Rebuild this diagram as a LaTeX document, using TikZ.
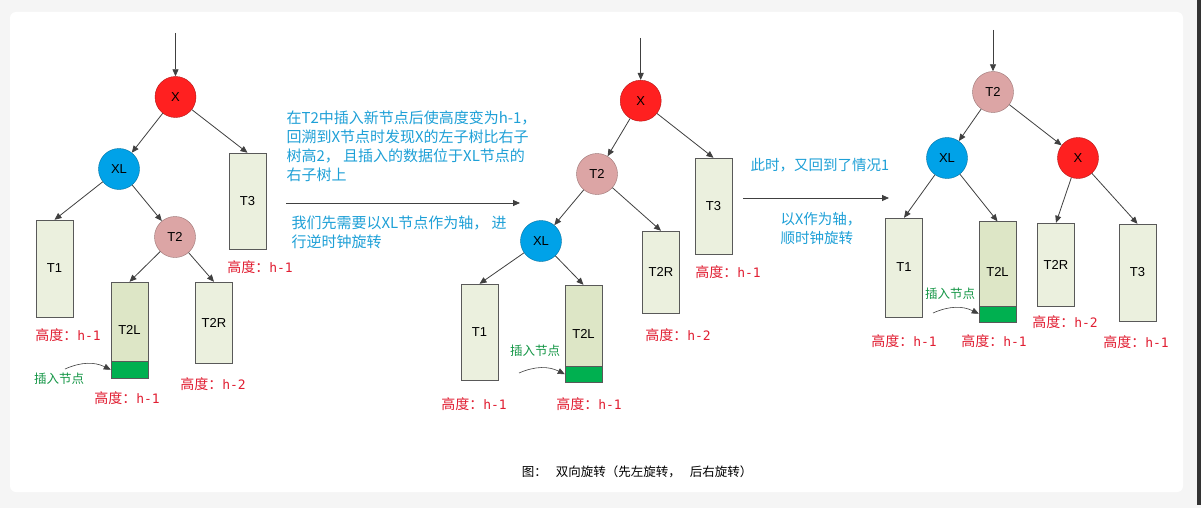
\documentclass[tikz,border=0pt]{standalone}
\usepackage{fontspec}
\setmainfont{Noto Sans CJK SC}
\newfontfamily\nodefont{Liberation Sans}
\newfontfamily\hfont{DejaVu Sans Mono}
\usepackage{tikz}
\usetikzlibrary{arrows.meta,positioning}
\usepackage{xcolor}
\definecolor{nodered}{RGB}{255,32,32}
\definecolor{nodeblue}{RGB}{0,162,232}
\definecolor{nodepink}{RGB}{220,165,165}
\definecolor{treefill}{RGB}{235,240,222}
\definecolor{treefillb}{RGB}{221,230,198}
\definecolor{insgreen}{RGB}{0,176,80}
\definecolor{txtblue}{RGB}{30,160,215}
\definecolor{txtred}{RGB}{225,30,50}
\definecolor{txtgreen}{RGB}{20,150,70}
\definecolor{edgegray}{RGB}{64,64,64}
\definecolor{pagegray}{RGB}{245,245,245}
\newcommand{\hval}[1]{高度：{\hfont\fontsize{13}{13}\selectfont h-#1}}
\tikzset{
  vnode/.style={circle, draw=#1!70!black, fill=#1, minimum size=41pt, inner sep=0pt,
    font=\nodefont\fontsize{13}{13}\selectfont},
  subtree/.style={rectangle, draw=gray!70!black, fill=treefill, minimum width=37pt,
    minimum height=#1, inner sep=0pt, font=\nodefont\fontsize{13}{13}\selectfont},
  edge/.style={draw=edgegray, line width=0.8pt, -{Triangle[length=7pt,width=6pt]}},
  hlabel/.style={font=\fontsize{14}{14}\selectfont, text=txtred},
  inslabel/.style={font=\fontsize{12.5}{12.5}\selectfont, text=txtgreen},
  note/.style={font=\fontsize{15}{19}\selectfont, text=txtblue, align=left},
}

\begin{document}
\begin{tikzpicture}[x=1pt, y=-1pt]
    \useasboundingbox (0,0) rectangle (1201,508);
    % Page
    \fill[pagegray] (0,0) rectangle (1201,508);
    \fill[white, rounded corners=6pt] (10,12) rectangle (1183,492);
    \fill[black!80] (1197,0) rectangle (1201,505);

    % Left tree
    \node[vnode=nodered] (x1) at (175.5,97) {X};
    \node[vnode=nodeblue] (xl1) at (119,169) {XL};
    \node[vnode=nodepink] (tb1) at (175,237) {T2};
    \node[subtree=97pt] (ta1) at (54.5,268.5) {T1};
    \node[subtree=96pt] (tc1) at (247.5,201) {T3};
    \node[subtree=96pt, fill=treefillb] (tl1) at (129.5,330) {T2L};
    \node[subtree=81pt] (tr1) at (214,322.5) {T2R};
    \draw[draw=gray!70!black, fill=insgreen] (tl1.south west) rectangle ([yshift=17pt]tl1.south east);
    \coordinate (in1) at (175.5,33);
    \draw[edge] (in1) -- (x1);
    \draw[edge] (x1) -- (xl1);
    \draw[edge] (x1) -- (tc1.north);
    \draw[edge] (xl1) -- (ta1.north);
    \draw[edge] (xl1) -- (tb1);
    \draw[edge] (tb1) -- (tl1.north);
    \draw[edge] (tb1) -- (tr1.north);
    \node[hlabel] (ha1) at (68,335) {\hval{1}};
    \node[hlabel] (hc1) at (260,267) {\hval{1}};
    \node[hlabel] (hr1) at (213,384) {\hval{2}};
    \node[hlabel] (hl1) at (127,398) {\hval{1}};
    \node[inslabel] (ins1) at (59,379) {插入节点};
    \coordinate (cs1) at (65,369);
    \draw[edge, line width=0.6pt] (cs1) to[bend left=25] ([yshift=8.5pt]tl1.south west);

    % First step
    \node[note, anchor=west] (n1) at (283,146.5) {在T2中插入新节点后使高度变为h-1，\\回溯到X节点时发现X的左子树比右子\\树高2， 且插入的数据位于XL节点的\\右子树上};
    \coordinate (as1) at (286,203);
    \coordinate (ae1) at (520,203);
    \draw[edge] (as1) -- (ae1);
    \node[note, anchor=west] (n2) at (288,232.5) {我们先需要以XL节点作为轴， 进\\行逆时钟旋转};

    % Middle tree
    \node[vnode=nodered] (x2) at (640.7,100.7) {X};
    \node[vnode=nodepink] (tb2) at (597,174) {T2};
    \node[vnode=nodeblue] (xl2) at (541,241) {XL};
    \node[subtree=96pt] (tc2) at (713.5,206) {T3};
    \node[subtree=82pt] (tr2) at (661,272) {T2R};
    \node[subtree=96pt] (ta2) at (479.5,332) {T1};
    \node[subtree=97pt, fill=treefillb] (tl2) at (583.5,333.5) {T2L};
    \draw[draw=gray!70!black, fill=insgreen] (tl2.south west) rectangle ([yshift=16pt]tl2.south east);
    \coordinate (in2) at (640.7,38);
    \draw[edge] (in2) -- (x2);
    \draw[edge] (x2) -- (tb2);
    \draw[edge] (x2) -- (tc2.north);
    \draw[edge] (tb2) -- (xl2);
    \draw[edge] (tb2) -- (tr2.north);
    \draw[edge] (xl2) -- (ta2.north);
    \draw[edge] (xl2) -- (tl2.north);
    \node[hlabel] (hc2) at (728,272) {\hval{1}};
    \node[hlabel] (hr2) at (678,335) {\hval{2}};
    \node[hlabel] (ha2) at (474,404) {\hval{1}};
    \node[hlabel] (hl2) at (589,404) {\hval{1}};
    \node[inslabel] (ins2) at (535,351) {插入节点};
    \coordinate (cs2) at (519,373);
    \draw[edge, line width=0.6pt] (cs2) to[bend left=25] ([yshift=8pt]tl2.south west);

    % Second step
    \node[font=\fontsize{14.5}{19}\selectfont, text=txtblue] (n3) at (820,165) {此时，又回到了情况1};
    \coordinate (as2) at (743,198);
    \coordinate (ae2) at (889,198);
    \draw[edge] (as2) -- (ae2);
    \node[note, font=\fontsize{14.5}{19}\selectfont, anchor=west] (n4) at (777,229) {以X作为轴，\\顺时钟旋转};

    % Right tree
    \node[vnode=nodepink] (tb3) at (993,92) {T2};
    \node[vnode=nodeblue] (xl3) at (947,158) {XL};
    \node[vnode=nodered] (x3) at (1078,158) {X};
    \node[subtree=99pt] (ta3) at (904,267.5) {T1};
    \node[subtree=100pt, fill=treefillb] (tl3) at (997.5,271.5) {T2L};
    \node[subtree=83pt] (tr3) at (1056,264.5) {T2R};
    \node[subtree=97pt] (tc3) at (1137.5,272.5) {T3};
    \draw[draw=gray!70!black, fill=insgreen] (tl3.south west) rectangle ([yshift=16pt]tl3.south east);
    \coordinate (in3) at (993,30);
    \draw[edge] (in3) -- (tb3);
    \draw[edge] (tb3) -- (xl3);
    \draw[edge] (tb3) -- (x3);
    \draw[edge] (xl3) -- (ta3.north);
    \draw[edge] (xl3) -- (tl3.north);
    \draw[edge] (x3) -- (tr3.north);
    \draw[edge] (x3) -- (tc3.north);
    \node[hlabel] (ha3) at (904,341) {\hval{1}};
    \node[hlabel] (hl3) at (994,341) {\hval{1}};
    \node[hlabel] (hr3) at (1065,322) {\hval{2}};
    \node[hlabel] (hc3) at (1136,342) {\hval{1}};
    \node[inslabel] (ins3) at (950,294) {插入节点};
    \coordinate (cs3) at (933,313);
    \draw[edge, line width=0.6pt] (cs3) to[bend left=25] ([yshift=8pt]tl3.south west);

    % Caption
    \node[font=\fontsize{12.5}{12.5}\selectfont] (cap) at (637,472) {图：\hspace{9pt}双向旋转（先左旋转，\hspace{9pt}后右旋转）};
\end{tikzpicture}
\end{document}
